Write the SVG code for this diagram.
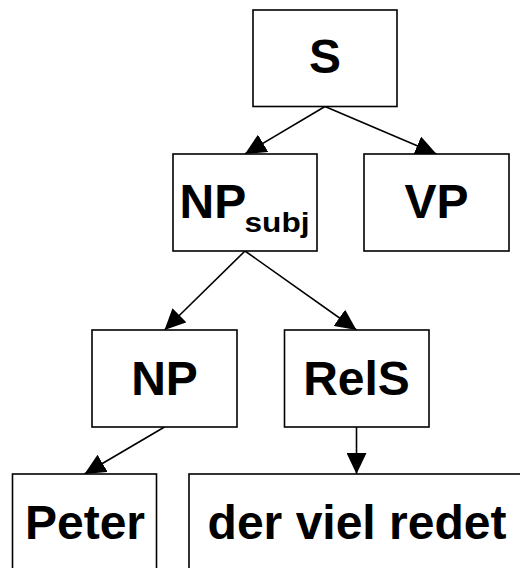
<svg xmlns="http://www.w3.org/2000/svg" width="520" height="568" viewBox="0 0 520 568">
  <style>
    .box { fill: #ffffff; stroke: #000000; stroke-width: 1.6; }
    .lbl { font-family: "Liberation Sans", Arial, sans-serif; font-weight: bold; font-size: 48px; fill: #000000; }
    .mid { text-anchor: middle; }
    .sub { font-family: "Liberation Sans", Arial, sans-serif; font-weight: bold; font-size: 27px; fill: #000000; }
    .edge { stroke: #000000; stroke-width: 1.6; fill: none; marker-end: url(#arrow); }
  </style>
  <defs>
    <marker id="arrow" viewBox="0 0 21 20" refX="21" refY="10" markerWidth="21" markerHeight="20" markerUnits="userSpaceOnUse" orient="auto">
      <path d="M0,0 L21,10 L0,20 z" fill="#000000"/>
    </marker>
  </defs>
  <rect width="520" height="568" fill="#ffffff"/>

  <!-- tree edges -->
  <g id="connectors">
    <line class="edge" x1="325" y1="106.5" x2="245" y2="154"/>
    <line class="edge" x1="325" y1="106.5" x2="436.5" y2="154"/>
    <line class="edge" x1="245" y1="251" x2="164.5" y2="330"/>
    <line class="edge" x1="245" y1="251" x2="356.5" y2="330"/>
    <line class="edge" x1="164.5" y1="427" x2="84.5" y2="474"/>
    <line class="edge" x1="356.5" y1="427" x2="356.5" y2="474"/>
  </g>

  <g id="node-S">
    <rect class="box" x="253" y="10" width="144" height="96.5"/>
    <text class="lbl mid" x="325" y="73">S</text>
  </g>

  <g id="node-NPsubj">
    <rect class="box" x="173" y="154" width="144" height="97"/>
    <text class="lbl" x="179.5" y="217.5">NP</text>
    <text class="sub" x="244.5" y="232" textLength="65" lengthAdjust="spacingAndGlyphs">subj</text>
  </g>

  <g id="node-VP">
    <rect class="box" x="364" y="154" width="145" height="97"/>
    <text class="lbl mid" x="436.5" y="217.5">VP</text>
  </g>

  <g id="node-NP">
    <rect class="box" x="92" y="330" width="145" height="97"/>
    <text class="lbl mid" x="164.5" y="395">NP</text>
  </g>

  <g id="node-RelS">
    <rect class="box" x="284.5" y="330" width="144.5" height="97"/>
    <text class="lbl mid" x="356.5" y="395">RelS</text>
  </g>

  <g id="node-Peter">
    <rect class="box" x="12.5" y="474" width="144" height="120"/>
    <text class="lbl mid" x="85" y="539">Peter</text>
  </g>

  <g id="node-der-viel-redet">
    <rect class="box" x="189" y="474" width="360" height="120"/>
    <text class="lbl mid" x="357" y="539">der viel redet</text>
  </g>
</svg>
